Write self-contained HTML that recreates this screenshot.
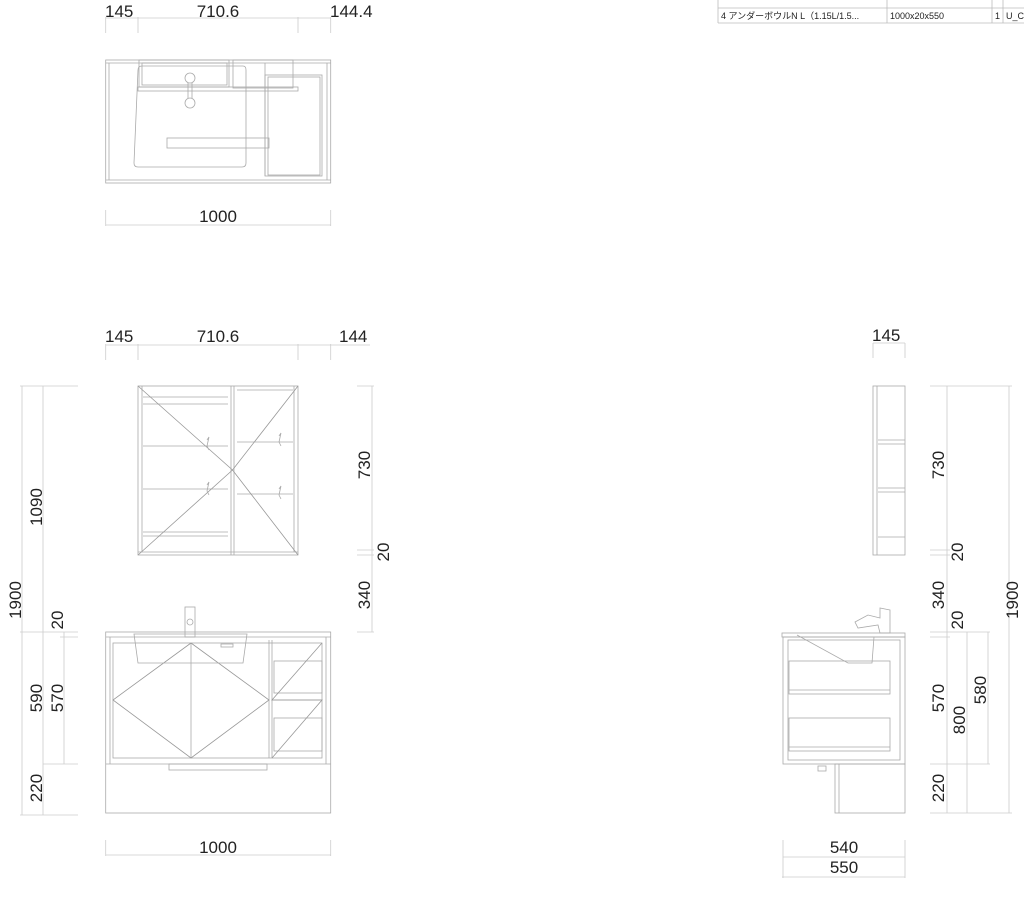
<!DOCTYPE html>
<html><head><meta charset="utf-8"><style>
html,body{margin:0;padding:0;background:#fff;}
svg{display:block;}
text{font-family:"Liberation Sans","Noto Sans CJK JP",sans-serif;fill:#222;}
</style></head><body>
<svg width="1024" height="907" viewBox="0 0 1024 907" xmlns="http://www.w3.org/2000/svg">
<g fill="none" stroke="#aaa" stroke-width="0.8">
<!-- table -->
<line x1="718" y1="8" x2="1024" y2="8" stroke="#bbb"/>
<line x1="718" y1="23" x2="1024" y2="23" stroke="#bbb"/>
<line x1="718" y1="0" x2="718" y2="23" stroke="#bbb"/>
<line x1="887" y1="0" x2="887" y2="23" stroke="#bbb"/>
<line x1="992" y1="0" x2="992" y2="23" stroke="#bbb"/>
<line x1="1003" y1="0" x2="1003" y2="23" stroke="#bbb"/>

<g stroke="#ccc">
<!-- TOP VIEW dims -->
<line x1="105.7" y1="18" x2="330.7" y2="18"/>
<line x1="105.7" y1="17" x2="105.7" y2="33"/><line x1="138" y1="17" x2="138" y2="33"/>
<line x1="298" y1="17" x2="298" y2="33"/><line x1="330.7" y1="17" x2="330.7" y2="33"/>
<line x1="105.7" y1="225" x2="330.7" y2="225"/>
<line x1="105.7" y1="210" x2="105.7" y2="226"/><line x1="330.7" y1="210" x2="330.7" y2="226"/>
<line x1="105.7" y1="345" x2="370" y2="345"/>
<line x1="105.7" y1="344" x2="105.7" y2="360"/><line x1="138" y1="344" x2="138" y2="360"/>
<line x1="298" y1="344" x2="298" y2="360"/><line x1="330.7" y1="344" x2="330.7" y2="360"/>
<line x1="22" y1="386" x2="22" y2="815"/>
<line x1="43" y1="386" x2="43" y2="815"/>
<line x1="64" y1="632" x2="64" y2="764"/>
<line x1="20" y1="386" x2="78" y2="386"/>
<line x1="20" y1="632" x2="78" y2="632"/>
<line x1="60" y1="637" x2="78" y2="637"/>
<line x1="43" y1="764" x2="78" y2="764"/>
<line x1="20" y1="815" x2="78" y2="815"/>
<line x1="372" y1="386" x2="372" y2="632"/>
<line x1="357" y1="386" x2="374" y2="386"/>
<line x1="357" y1="550" x2="374" y2="550"/>
<line x1="357" y1="555" x2="374" y2="555"/>
<line x1="357" y1="632" x2="374" y2="632"/>
<line x1="105.7" y1="855" x2="330.7" y2="855"/>
<line x1="105.7" y1="840" x2="105.7" y2="856"/><line x1="330.7" y1="840" x2="330.7" y2="856"/>
<line x1="873" y1="343" x2="905" y2="343"/>
<line x1="873" y1="343" x2="873" y2="358"/><line x1="905" y1="343" x2="905" y2="358"/>
<line x1="947" y1="386" x2="947" y2="813"/>
<line x1="967" y1="632" x2="967" y2="813"/>
<line x1="988" y1="632" x2="988" y2="764"/>
<line x1="1009" y1="386" x2="1009" y2="813"/>
<line x1="930" y1="386" x2="1012" y2="386"/>
<line x1="930" y1="550" x2="950" y2="550"/><line x1="930" y1="555" x2="950" y2="555"/>
<line x1="930" y1="632" x2="990" y2="632"/><line x1="930" y1="637" x2="950" y2="637"/>
<line x1="930" y1="764" x2="990" y2="764"/>
<line x1="930" y1="813" x2="1012" y2="813"/>
<line x1="783" y1="857" x2="905" y2="857"/>
<line x1="782" y1="877" x2="905" y2="877"/>
<line x1="783" y1="840" x2="783" y2="878"/><line x1="905" y1="840" x2="905" y2="878"/>
</g>

<!-- top view plan -->
<rect x="105.7" y="60" width="225" height="123"/>
<line x1="105.7" y1="63" x2="330.7" y2="63"/>
<line x1="109" y1="63" x2="109" y2="180"/><line x1="327" y1="63" x2="327" y2="180"/>
<line x1="105.7" y1="180" x2="330.7" y2="180"/>
<rect x="139" y="60" width="90" height="27"/>
<rect x="142" y="63" width="85" height="22"/>
<rect x="233" y="60" width="60" height="28"/>
<rect x="138" y="87" width="160" height="4"/>
<path d="M138 70 Q138 66 142 66 L243 66 Q246 66 246 70 L246 163 Q246 167 242 167 L138 167 Q134 167 134 163 Z"/>
<circle cx="190" cy="78" r="5"/>
<circle cx="190" cy="103" r="5"/>
<line x1="188" y1="83" x2="188" y2="98"/><line x1="192" y1="83" x2="192" y2="98"/>
<rect x="167" y="138" width="102" height="10"/>
<rect x="265" y="75" width="57" height="101"/>
<rect x="268" y="77" width="52" height="98"/>
<line x1="265" y1="63" x2="265" y2="176"/>

<!-- mirror cabinet -->
<rect x="138" y="386" width="160" height="169"/>
<line x1="231" y1="386" x2="231" y2="555"/><line x1="234" y1="386" x2="234" y2="555"/>
<line x1="142" y1="386" x2="142" y2="552"/><line x1="294" y1="386" x2="294" y2="552"/>
<line x1="138" y1="552" x2="298" y2="552"/>
<line x1="143" y1="397" x2="228" y2="397"/><line x1="143" y1="404" x2="228" y2="404"/>
<line x1="143" y1="446" x2="228" y2="446"/>
<line x1="143" y1="489" x2="228" y2="489"/>
<line x1="143" y1="532" x2="228" y2="532"/><line x1="143" y1="536" x2="228" y2="536"/>
<line x1="237" y1="390" x2="293" y2="390"/>
<line x1="237" y1="442" x2="293" y2="442"/>
<line x1="237" y1="494" x2="293" y2="494"/>
<polyline points="138,386 232.5,470 298,555" stroke="#999"/>
<polyline points="298,386 232.5,470 138,555" stroke="#999"/>
<path d="M207 440 L209 437 L207 446 L209 450 M207 485 L209 482 L207 491 L209 495 M279 436 L281 433 L279 442 L281 446 M279 489 L281 486 L279 495 L281 499"/>

<!-- vanity front -->
<rect x="105.7" y="632" width="225" height="181"/>
<line x1="105.7" y1="637" x2="330.7" y2="637"/>
<line x1="110" y1="637" x2="110" y2="764"/><line x1="326" y1="637" x2="326" y2="764"/>
<line x1="105.7" y1="764" x2="330.7" y2="764"/>
<rect x="113" y="643" width="209" height="115"/>
<line x1="191" y1="643" x2="191" y2="758"/>
<line x1="269" y1="640" x2="269" y2="758"/><line x1="272" y1="640" x2="272" y2="758"/>
<polyline points="191,643 113,700 191,758 269,700 191,643" stroke="#999"/>
<rect x="274" y="661" width="48" height="32"/>
<rect x="274" y="718" width="48" height="33"/>
<line x1="272" y1="700" x2="322" y2="700"/>
<polyline points="322,643 272,700 322,700 272,758" stroke="#999"/>
<path d="M134 634 L247 634 L243 663 L138 663 Z"/>
<rect x="221" y="644" width="12" height="3"/>
<rect x="185" y="607" width="10" height="30"/>
<circle cx="190" cy="622" r="3"/>
<rect x="169" y="764" width="98" height="6"/>

<!-- SIDE VIEW -->
<rect x="873" y="386" width="32" height="169"/>
<line x1="877" y1="386" x2="877" y2="555"/>
<line x1="878" y1="440" x2="905" y2="440"/><line x1="878" y1="444" x2="905" y2="444"/>
<line x1="878" y1="488" x2="905" y2="488"/><line x1="878" y1="492" x2="905" y2="492"/>
<line x1="878" y1="537" x2="905" y2="537"/>
<rect x="782" y="633" width="123" height="4"/>
<rect x="783" y="637" width="122" height="127"/>
<rect x="788" y="640" width="112" height="120"/>
<rect x="789" y="661" width="101" height="33"/>
<line x1="789" y1="690" x2="890" y2="690"/>
<rect x="789" y="718" width="101" height="33"/>
<line x1="789" y1="747" x2="890" y2="747"/>
<path d="M797 635 L848 663 L872 663 L874 637"/>
<path d="M855 622 L868 615 L880 618 L880 608 L890 610 L890 633 L880 633 L878 625 L858 628 Z"/>
<rect x="835" y="764" width="70" height="49"/>
<line x1="839" y1="764" x2="839" y2="813"/>
<rect x="818" y="766" width="8" height="5"/>
</g>

<g font-size="17">
<text x="105" y="17">145</text>
<text x="218" y="17" text-anchor="middle">710.6</text>
<text x="330" y="17">144.4</text>
<text x="218" y="222" text-anchor="middle">1000</text>
<text x="105" y="342">145</text>
<text x="218" y="342" text-anchor="middle">710.6</text>
<text x="339" y="342">144</text>
<text x="218" y="853" text-anchor="middle">1000</text>
<text x="872" y="341">145</text>
<text x="844" y="853" text-anchor="middle">540</text>
<text x="844" y="873" text-anchor="middle">550</text>
<g transform="translate(21,600) rotate(-90)"><text text-anchor="middle">1900</text></g>
<g transform="translate(42,507) rotate(-90)"><text text-anchor="middle">1090</text></g>
<g transform="translate(63,620) rotate(-90)"><text text-anchor="middle">20</text></g>
<g transform="translate(42,698) rotate(-90)"><text text-anchor="middle">590</text></g>
<g transform="translate(63,698) rotate(-90)"><text text-anchor="middle">570</text></g>
<g transform="translate(42,788) rotate(-90)"><text text-anchor="middle">220</text></g>
<g transform="translate(370,465) rotate(-90)"><text text-anchor="middle">730</text></g>
<g transform="translate(389,552) rotate(-90)"><text text-anchor="middle">20</text></g>
<g transform="translate(370,595) rotate(-90)"><text text-anchor="middle">340</text></g>
<g transform="translate(944,465) rotate(-90)"><text text-anchor="middle">730</text></g>
<g transform="translate(963,552) rotate(-90)"><text text-anchor="middle">20</text></g>
<g transform="translate(944,595) rotate(-90)"><text text-anchor="middle">340</text></g>
<g transform="translate(963,620) rotate(-90)"><text text-anchor="middle">20</text></g>
<g transform="translate(1018,600) rotate(-90)"><text text-anchor="middle">1900</text></g>
<g transform="translate(944,698) rotate(-90)"><text text-anchor="middle">570</text></g>
<g transform="translate(965,720) rotate(-90)"><text text-anchor="middle">800</text></g>
<g transform="translate(986,690) rotate(-90)"><text text-anchor="middle">580</text></g>
<g transform="translate(944,788) rotate(-90)"><text text-anchor="middle">220</text></g>
</g>
<g font-size="9">
<text x="721" y="19">4 アンダーボウルN L（1.15L/1.5...</text>
<text x="890" y="19">1000x20x550</text>
<text x="1000" y="19" text-anchor="end">1</text>
<text x="1006" y="19">U_C</text>
</g>
</svg>
</body></html>
